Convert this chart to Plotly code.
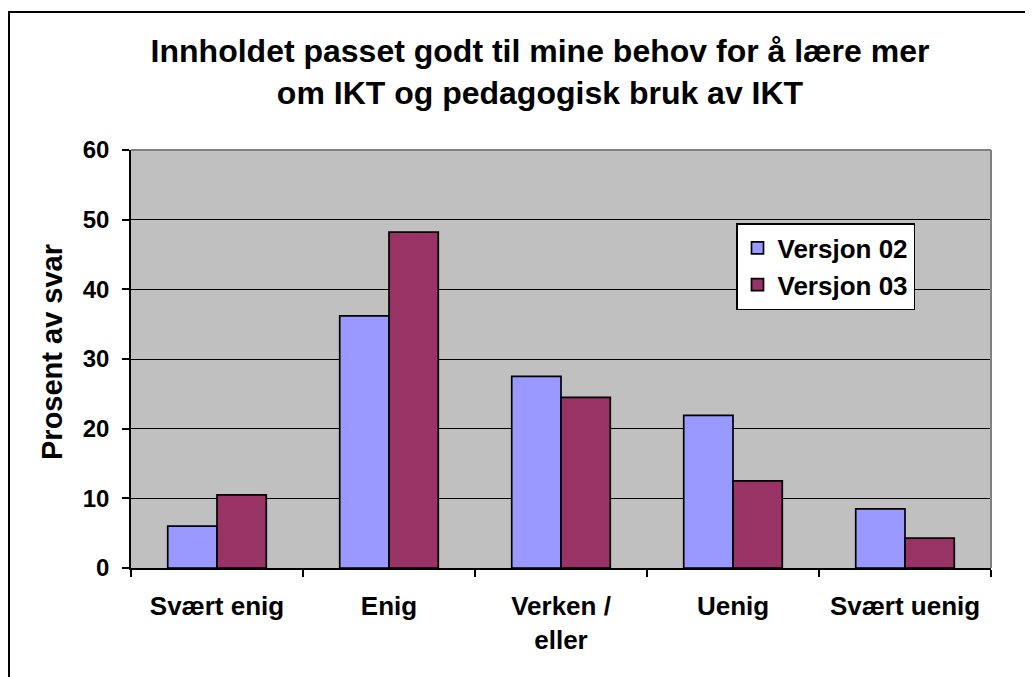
import plotly.graph_objects as go

categories = ["Svært enig", "Enig", "Verken /<br>eller", "Uenig", "Svært uenig"]
versjon_02 = [6.0, 36.2, 27.5, 21.9, 8.5]
versjon_03 = [10.5, 48.2, 24.5, 12.5, 4.3]
series_names = ["Versjon 02", "Versjon 03"]
y_ticks = [0, 10, 20, 30, 40, 50, 60]

FONT = "Liberation Sans, Arial, sans-serif"
OFF = 8  # default page body margin
PAGE_W, PAGE_H = 1033, 677
W, H = PAGE_W - OFF, PAGE_H - OFF
# plot area in page pixels: x 131..991, y 150..568
L, T = 131 - OFF, 150 - OFF
R, B = PAGE_W - 991, PAGE_H - 568
PW, PH = W - L - R, H - T - B


def px_x(x):  # page pixel -> paper x
    return (x - OFF - L) / PW


def px_y(y):  # page pixel -> paper y
    return (H - B - (y - OFF)) / PH


fig = go.Figure()
fig.add_trace(go.Bar(x=categories, y=versjon_02, name=series_names[0],
                     legendgroup="a",
                     marker=dict(color="#9999FF", line=dict(color="black", width=1.7))))
fig.add_trace(go.Bar(x=categories, y=versjon_03, name=series_names[1],
                     legendgroup="b",
                     marker=dict(color="#993366", line=dict(color="black", width=1.7))))

fig.update_layout(
    width=W, height=H,
    margin=dict(l=L, r=R, t=T, b=B, pad=0),
    paper_bgcolor="white",
    plot_bgcolor="#C0C0C0",
    font=dict(family=FONT, color="black"),
    barmode="group",
    bargap=0.427,
    bargroupgap=0,
    title=dict(
        text="Innholdet passet godt til mine behov for å lære mer<br>om IKT og pedagogisk bruk av IKT",
        font=dict(family=FONT, size=32, color="black", weight="bold"),
        x=(540 - OFF) / W, xanchor="center", xref="container",
        y=1 - 54 / H, yanchor="top", yref="container",
    ),
    legend=dict(
        x=px_x(736), y=px_y(223), xanchor="left", yanchor="top",
        bgcolor="white", bordercolor="black", borderwidth=1.5,
        font=dict(family=FONT, size=26, color="black", weight="bold"),
        itemwidth=30,
        traceorder="normal",
        tracegroupgap=2,
    ),
    showlegend=True,
)

fig.update_xaxes(
    type="category",
    tickson="boundaries",
    ticks="outside", ticklen=7, tickwidth=1.5, tickcolor="black",
    showline=True, linecolor="black", linewidth=1.5,
    showgrid=False, zeroline=False,
    tickfont=dict(family=FONT, size=26, color="black", weight="bold"),
    ticklabelstandoff=14,
)
fig.update_yaxes(
    range=[0, 60], tickvals=y_ticks,
    ticks="outside", ticklen=7, tickwidth=1.5, tickcolor="black",
    showline=True, linecolor="black", linewidth=1.5,
    showgrid=True, gridcolor="black", gridwidth=1,
    zeroline=False,
    tickfont=dict(family=FONT, size=24, color="black", weight="bold"),
    ticklabelstandoff=8,
)

# y axis title
fig.add_annotation(
    text="Prosent av svar", textangle=-90,
    x=px_x(52), y=px_y(352), xref="paper", yref="paper",
    xanchor="center", yanchor="middle", showarrow=False,
    font=dict(family=FONT, size=29, color="black", weight="bold"),
)

# plot-area top and right border (gray)
fig.add_shape(type="line", xref="paper", yref="paper", x0=0, x1=1, y0=1, y1=1,
              line=dict(color="#808080", width=2), layer="above")
fig.add_shape(type="line", xref="paper", yref="paper", x0=1, x1=1, y0=0, y1=1,
              line=dict(color="#808080", width=2), layer="above")

# outer chart frame
fig.add_shape(type="rect", xref="paper", yref="paper",
              x0=px_x(9), x1=px_x(1050), y0=px_y(700), y1=px_y(12),
              line=dict(color="black", width=2), fillcolor="rgba(0,0,0,0)", layer="above")

fig.write_html("out.html")
